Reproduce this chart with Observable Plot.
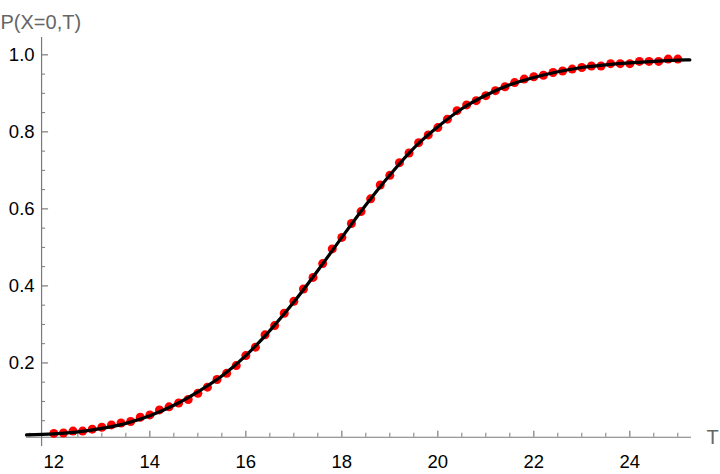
<!DOCTYPE html>
<html>
<head>
<meta charset="utf-8">
<script src="https://cdn.jsdelivr.net/npm/d3@7"></script>
<script src="https://cdn.jsdelivr.net/npm/@observablehq/plot@0.6"></script>
<style>
  html, body { margin: 0; padding: 0; background: #fff; }
  #chart svg { display: block; }
</style>
</head>
<body>
<div id="chart"></div>
<script>
// Simulated points: T and P(X=0,T)
const pointT = [12.0,12.2,12.4,12.6,12.8,13.0,13.2,13.4,13.6,13.8,
  14.0,14.2,14.4,14.6,14.8,15.0,15.2,15.4,15.6,15.8,
  16.0,16.2,16.4,16.6,16.8,17.0,17.2,17.4,17.6,17.8,
  18.0,18.2,18.4,18.6,18.8,19.0,19.2,19.4,19.6,19.8,
  20.0,20.2,20.4,20.6,20.8,21.0,21.2,21.4,21.6,21.8,
  22.0,22.2,22.4,22.6,22.8,23.0,23.2,23.4,23.6,23.8,
  24.0,24.2,24.4,24.6,24.8,25.0];
const pointP = [0.017,0.018,0.023,0.023,0.028,0.033,0.039,0.044,0.048,0.059,
  0.065,0.078,0.086,0.096,0.105,0.121,0.137,0.157,0.173,0.193,
  0.219,0.241,0.273,0.297,0.329,0.360,0.392,0.422,0.458,0.496,
  0.526,0.562,0.593,0.626,0.662,0.687,0.720,0.745,0.772,0.792,
  0.811,0.833,0.855,0.870,0.881,0.894,0.907,0.917,0.928,0.937,
  0.943,0.947,0.954,0.958,0.963,0.967,0.971,0.971,0.977,0.977,
  0.977,0.983,0.983,0.983,0.989,0.989];

// Fitted curve, read at knots
const curveT = [11.43,12,12.5,13,13.5,14,14.5,15,15.5,16,16.5,17,17.5,18,18.5,19,19.5,20,20.5,21,21.5,22,22.5,23,23.5,24,24.5,25,25.25];
const curveP = [0.013,0.016,0.021,0.030,0.043,0.063,0.090,0.125,0.166,0.219,0.284,0.358,0.440,0.526,0.610,0.688,0.758,0.813,0.860,0.895,0.922,0.941,0.956,0.967,0.974,0.979,0.983,0.986,0.987];

// Axes
const xMajor = [12,14,16,18,20,22,24];
const xMinor = [11.5,12.5,13,13.5,14.5,15,15.5,16.5,17,17.5,18.5,19,19.5,20.5,21,21.5,22.5,23,23.5,24.5,25];
const yMajor = [0.2,0.4,0.6,0.8,1.0];
const yMinor = [0.05,0.1,0.15,0.25,0.3,0.35,0.45,0.5,0.55,0.65,0.7,0.75,0.85,0.9,0.95];
const xLabel = "T";
const yLabel = "P(X=0,T)";
const xDomain = [11.43, 25.285];
const yDomain = [-0.017, 1.045];
const originX = 11.744;
const originY = 0.007;

const points = pointT.map((t, i) => ({T: t, P: pointP[i]}));
const curve = curveT.map((t, i) => ({T: t, P: curveP[i]}));

const axisColor = "#7a7a7a";
const font = "'Liberation Sans', Arial, Helvetica, sans-serif";

const chart = Plot.plot({
  width: 720,
  height: 474,
  marginLeft: 26,
  marginRight: 29,
  marginTop: 37,
  marginBottom: 28,
  style: {fontFamily: font, background: "#fff", overflow: "visible"},
  x: {domain: xDomain, axis: null},
  y: {domain: yDomain, axis: null},
  marks: [
    // axis lines
    Plot.ruleY([originY], {x1: xDomain[0], x2: xDomain[1], stroke: axisColor, strokeWidth: 1.2}),
    Plot.ruleX([originX], {y1: yDomain[0], y2: yDomain[1], stroke: axisColor, strokeWidth: 1.2}),
    // x ticks
    Plot.ruleX(xMajor, {x: d => d, y1: originY, y2: originY, insetTop: -6, stroke: axisColor, strokeWidth: 1.2}),
    Plot.ruleX(xMinor, {x: d => d, y1: originY, y2: originY, insetTop: -4, stroke: axisColor, strokeWidth: 1}),
    // y ticks
    Plot.ruleY(yMajor, {y: d => d, x1: originX, x2: originX, insetRight: -7, stroke: axisColor, strokeWidth: 1.2}),
    Plot.ruleY(yMinor, {y: d => d, x1: originX, x2: originX, insetRight: -4, stroke: axisColor, strokeWidth: 1}),
    // tick labels
    Plot.text(xMajor, {x: d => d, y: originY, dy: 25, text: d => String(d), fontSize: 18.5, fill: "#000"}),
    Plot.text(yMajor, {x: originX, y: d => d, dx: -7, textAnchor: "end", text: d => d.toFixed(1), fontSize: 18.5, fill: "#000"}),
    // axis titles
    Plot.text([xLabel], {x: xDomain[1], y: originY, dx: 15, textAnchor: "start", text: d => d, fontSize: 20, fill: "#666"}),
    Plot.text([yLabel], {frameAnchor: "top-left", dx: -26, dy: -23, textAnchor: "start", text: d => d, fontSize: 20, fill: "#666"}),
    // data
    Plot.dot(points, {x: "T", y: "P", r: 4.5, fill: "#ff0000", stroke: "none"}),
    Plot.line(curve, {x: "T", y: "P", curve: "monotone-x", stroke: "#000", strokeWidth: 3.2})
  ]
});
document.getElementById("chart").append(chart);
</script>
</body>
</html>
